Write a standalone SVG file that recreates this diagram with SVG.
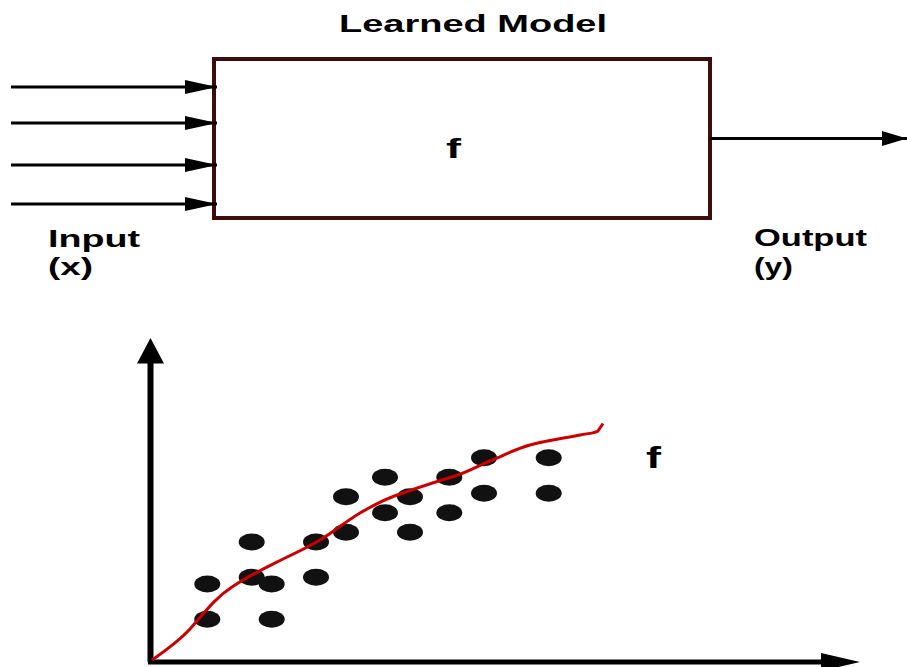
<svg xmlns="http://www.w3.org/2000/svg" width="907" height="667" viewBox="0 0 907 667">
<style>
.t{font-family:"Liberation Sans",Arial,sans-serif;font-weight:bold;fill:#000}
.ln{stroke:#000;stroke-width:3.2;fill:none}
.dot{fill:#111}
</style>
<defs>
<marker id="ah" markerUnits="userSpaceOnUse" markerWidth="32" markerHeight="16" refX="32" refY="7" orient="auto">
<path d="M0,0 L32,7 L0,14 Z" fill="#000"/>
</marker>
<marker id="ah2" markerUnits="userSpaceOnUse" markerWidth="25" markerHeight="16" refX="25" refY="7.5" orient="auto">
<path d="M0,0 L25,7.5 L0,15 Z" fill="#000"/>
</marker>
</defs>
<rect width="907" height="667" fill="#fff"/>
<g id="model">
<rect x="214" y="59" width="496" height="159" fill="#fff" stroke="#3d0c0c" stroke-width="4"/>
<text class="t" x="339" y="32" font-size="24" textLength="268" lengthAdjust="spacingAndGlyphs">Learned Model</text>
<text class="t" x="446" y="158" font-size="27" textLength="15" lengthAdjust="spacingAndGlyphs">f</text>
</g>
<g id="input">
<text class="t" x="48" y="247" font-size="24" textLength="92" lengthAdjust="spacingAndGlyphs">Input</text>
<text class="t" x="48" y="275" font-size="24" textLength="45" lengthAdjust="spacingAndGlyphs">(x)</text>
</g>
<g id="output">
<text class="t" x="754" y="246" font-size="24" textLength="113" lengthAdjust="spacingAndGlyphs">Output</text>
<text class="t" x="754" y="275" font-size="24" textLength="39" lengthAdjust="spacingAndGlyphs">(y)</text>
</g>
<g id="connectors">
<line class="ln" x1="11" y1="87" x2="217" y2="87" marker-end="url(#ah)"/>
<line class="ln" x1="11" y1="123" x2="217" y2="123" marker-end="url(#ah)"/>
<line class="ln" x1="11" y1="165" x2="217" y2="165" marker-end="url(#ah)"/>
<line class="ln" x1="11" y1="204" x2="217" y2="204" marker-end="url(#ah)"/>
<line class="ln" x1="710" y1="138.5" x2="907" y2="138.5" marker-end="url(#ah2)"/>
</g>
<g id="plot">
<line x1="150.5" y1="662" x2="150.5" y2="360" stroke="#000" stroke-width="6"/>
<path d="M137,363.5 L150.5,338 L164,363.5 Z" fill="#000"/>
<line x1="148" y1="662" x2="824" y2="662" stroke="#000" stroke-width="5"/>
<path d="M821,653 L860,662 L821,671 Z" fill="#000"/>
<g>
<ellipse class="dot" cx="207.3" cy="584" rx="13" ry="8.5"/>
<ellipse class="dot" cx="207.3" cy="619.3" rx="13" ry="8.5"/>
<ellipse class="dot" cx="251.7" cy="542" rx="13" ry="8.5"/>
<ellipse class="dot" cx="251.7" cy="577.3" rx="13" ry="8.5"/>
<ellipse class="dot" cx="271.7" cy="584" rx="13" ry="8.5"/>
<ellipse class="dot" cx="271.7" cy="619.3" rx="13" ry="8.5"/>
<ellipse class="dot" cx="316" cy="542" rx="13" ry="8.5"/>
<ellipse class="dot" cx="316" cy="577.3" rx="13" ry="8.5"/>
<ellipse class="dot" cx="346" cy="496.7" rx="13" ry="8.5"/>
<ellipse class="dot" cx="346" cy="532.3" rx="13" ry="8.5"/>
<ellipse class="dot" cx="385" cy="477.3" rx="13" ry="8.5"/>
<ellipse class="dot" cx="385" cy="512.7" rx="13" ry="8.5"/>
<ellipse class="dot" cx="410" cy="496.7" rx="13" ry="8.5"/>
<ellipse class="dot" cx="410" cy="532.3" rx="13" ry="8.5"/>
<ellipse class="dot" cx="449.3" cy="477.3" rx="13" ry="8.5"/>
<ellipse class="dot" cx="449.3" cy="512.7" rx="13" ry="8.5"/>
<ellipse class="dot" cx="484" cy="457.7" rx="13" ry="8.5"/>
<ellipse class="dot" cx="484" cy="493.3" rx="13" ry="8.5"/>
<ellipse class="dot" cx="548.7" cy="457.7" rx="13" ry="8.5"/>
<ellipse class="dot" cx="548.7" cy="493.3" rx="13" ry="8.5"/>
</g>
<path d="M152,660 C165,651 178,642 190,629 C205,612 215,598 232,587 C250,575 265,568 283,559 C300,551 310,546 320,540 C335,531 345,522 360,513 C372,506 385,499 400,494 C420,487 438,481 455,476 C468,472 478,466 490,461 C505,455 515,449 530,445 C548,440 565,438 580,435 C592,433 598,432 598,431 L603,423.5" fill="none" stroke="#cc0000" stroke-width="3"/>
<text class="t" x="646" y="468" font-size="29" textLength="15" lengthAdjust="spacingAndGlyphs">f</text>
</g>
</svg>
